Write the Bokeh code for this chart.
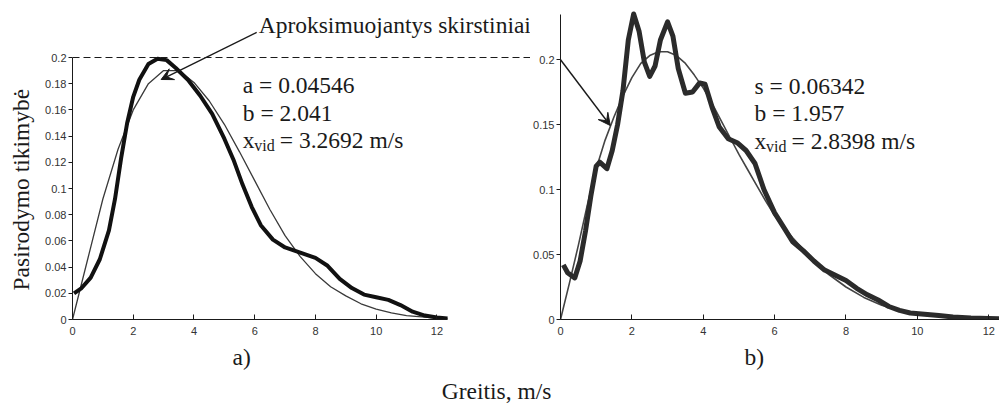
import math
from bokeh.plotting import figure
from bokeh.layouts import row, column
from bokeh.models import (Label, Arrow, VeeHead, FixedTicker, PrintfTickFormatter, Range1d,
                          Span, Title)
from bokeh.embed import file_html
from bokeh.resources import INLINE

SERIF = "Liberation Serif"
SANS = "Liberation Sans"
INK = "#1a1a1a"

# ---------------- data: panel a) ----------------
a_emp_x = [0.05, 0.3, 0.6, 0.9, 1.2, 1.4, 1.6, 1.8, 2.0, 2.2, 2.5, 2.8, 3.1, 3.4, 3.8, 4.2,
           4.6, 5.0, 5.3, 5.6, 5.9, 6.2, 6.6, 7.0, 7.5, 8.0, 8.4, 8.8, 9.2, 9.6, 10.0, 10.4,
           10.8, 11.2, 11.6, 12.0, 12.35]
a_emp_y = [0.020, 0.024, 0.032, 0.046, 0.068, 0.092, 0.123, 0.150, 0.170, 0.183, 0.195, 0.199,
           0.198, 0.192, 0.183, 0.171, 0.157, 0.138, 0.122, 0.103, 0.086, 0.072, 0.061, 0.055,
           0.051, 0.047, 0.041, 0.031, 0.024, 0.019, 0.017, 0.015, 0.011, 0.006, 0.003, 0.0015,
           0.0008]
a_fit_x = [0, 0.5, 1.0, 1.5, 2.0, 2.5, 3.0, 3.5, 4.0, 4.5, 5.0, 5.5, 6.0, 6.5, 7.0, 7.5, 8.0,
           8.5, 9.0, 9.5, 10.0, 10.5, 11.0, 11.5, 12.0, 12.35]
a_fit_y = [0, 0.046, 0.092, 0.130, 0.160, 0.180, 0.190, 0.190, 0.181, 0.167, 0.149, 0.128,
           0.106, 0.084, 0.064, 0.048, 0.035, 0.025, 0.018, 0.012, 0.008, 0.005, 0.003, 0.002,
           0.001, 0.0007]

# ---------------- data: panel b) ----------------
b_emp_x = [0.08, 0.2, 0.4, 0.55, 0.7, 0.85, 1.0, 1.1, 1.3, 1.45, 1.6, 1.75, 1.9, 2.05, 2.2,
           2.35, 2.5, 2.65, 2.8, 3.0, 3.15, 3.3, 3.5, 3.7, 3.9, 4.05, 4.25, 4.45, 4.7, 4.95,
           5.2, 5.45, 5.7, 6.0, 6.3, 6.5, 6.8, 7.1, 7.4, 7.7, 8.0, 8.3, 8.6, 8.9, 9.2, 9.5,
           9.8, 10.2, 10.6, 11.0, 11.5, 12.0, 12.3]
b_emp_y = [0.042, 0.036, 0.032, 0.045, 0.068, 0.095, 0.118, 0.121, 0.116, 0.130, 0.150, 0.176,
           0.215, 0.235, 0.222, 0.198, 0.187, 0.195, 0.215, 0.229, 0.218, 0.193, 0.174, 0.175,
           0.182, 0.181, 0.163, 0.148, 0.139, 0.136, 0.130, 0.120, 0.100, 0.082, 0.069, 0.060,
           0.053, 0.045, 0.038, 0.034, 0.030, 0.024, 0.019, 0.015, 0.010, 0.007, 0.005, 0.004,
           0.003, 0.002, 0.0012, 0.0008, 0.0006]
b_fit_x = [0, 0.25, 0.5, 0.75, 1.0, 1.25, 1.5, 1.75, 2.0, 2.25, 2.5, 2.75, 3.0, 3.25, 3.5,
           3.75, 4.0, 4.25, 4.5, 4.75, 5.0, 5.25, 5.5, 5.75, 6.0, 6.5, 7.0, 7.5, 8.0, 8.5, 9.0,
           9.5, 10.0, 10.5, 11.0, 11.5, 12.0, 12.3]
b_fit_y = [0, 0.028, 0.057, 0.088, 0.116, 0.138, 0.156, 0.172, 0.186, 0.197, 0.203, 0.206,
           0.206, 0.203, 0.197, 0.188, 0.178, 0.166, 0.153, 0.140, 0.127, 0.115, 0.103, 0.091,
           0.080, 0.063, 0.048, 0.035, 0.025, 0.017, 0.011, 0.007, 0.0045, 0.0028, 0.0017,
           0.001, 0.0006, 0.0004]

x_ticks = [0, 2, 4, 6, 8, 10, 12]
a_y_ticks = [0, 0.02, 0.04, 0.06, 0.08, 0.1, 0.12, 0.14, 0.16, 0.18, 0.2]
b_y_ticks = [0, 0.05, 0.1, 0.15, 0.2]
peak_level = 0.2

a_params = ["a = 0.04546", "b = 2.041"]
a_mean = "= 3.2692 m/s"
b_params = ["s = 0.06342", "b = 1.957"]
b_mean = "= 2.8398 m/s"
sub_text = "vid"
callout = "Aproksimuojantys skirstiniai"
y_title = "Pasirodymo tikimybė"
x_title = "Greitis, m/s"
panel_tags = ["a)", "b)"]

FS = "23.5px"


def style(p, yticks, xb, yb):
    p.xgrid.visible = False
    p.ygrid.visible = False
    p.outline_line_color = None
    p.background_fill_color = "white"
    p.border_fill_color = "white"
    xa = p.xaxis[0]
    ya = p.yaxis[0]
    xa.ticker = FixedTicker(ticks=x_ticks)
    ya.ticker = FixedTicker(ticks=yticks)
    ya.formatter = PrintfTickFormatter(format="%g")
    xa.bounds = (0, xb)
    ya.bounds = (0, yb)
    for ax in (xa, ya):
        ax.axis_line_color = INK
        ax.axis_line_width = 1
        ax.major_tick_line_color = INK
        ax.minor_tick_line_color = None
        ax.major_label_text_font = SANS
        ax.major_label_text_font_size = "11px"
        ax.major_label_text_color = "#333333"
    xa.major_tick_in = 5
    xa.major_tick_out = 0
    xa.major_label_standoff = 7
    ya.major_tick_in = 0
    ya.major_tick_out = 4
    ya.major_label_standoff = 2


def lab(p, x, y, text, size=FS, **kw):
    p.add_layout(Label(x=x, y=y, text=text, text_font=SERIF, text_font_size=size,
                       text_color=INK, text_baseline="middle", **kw))


def tag(p, text, side, offset, standoff, valign):
    p.add_layout(Title(text=text, align="left", offset=offset, standoff=standoff,
                       vertical_align=valign, text_font=SERIF, text_font_size=FS,
                       text_font_style="normal", text_color=INK), side)


def stat_block(p, x, y0, params, mean, dy):
    lab(p, x, y0, params[0])
    lab(p, x, y0 - dy, params[1])
    lab(p, x, y0 - 2 * dy, "x")
    lab(p, x, y0 - 2 * dy, sub_text, size="16px", x_offset=11.5, y_offset=-5.5)
    lab(p, x, y0 - 2 * dy, mean, x_offset=37)


head = dict(size=12, fill_color=INK, line_color=INK)

# ---------------- panel a) ----------------
p1 = figure(width=530, height=377, x_range=Range1d(0, 460 / 30.5),
            y_range=Range1d(0, 319 / 1310),
            output_backend="svg", toolbar_location=None, title=None,
            min_border_left=70, min_border_right=0, min_border_top=0, min_border_bottom=58)
style(p1, a_y_ticks, 12.35, 0.2)
p1.line(a_fit_x, a_fit_y, line_width=1.3, color="#3a3a3a")
p1.line(a_emp_x, a_emp_y, line_width=4, color="#111111", line_join="round")
p1.add_layout(Span(location=peak_level, dimension="width", line_color=INK,
                   line_width=1.2, line_dash="7 4"))
stat_block(p1, 5.607, 0.1789, a_params, a_mean, 0.0211)
lab(p1, 6.131, 0.2245, callout)
p1.add_layout(Arrow(x_start=6.066, y_start=0.2191, x_end=2.918, y_end=0.1832,
                    line_color=INK, line_width=1.4, end=VeeHead(**head)))
tag(p1, y_title, "left", 29, 14, "top")
tag(p1, panel_tags[0], "below", 160, 12, "top")

# ---------------- panel b) ----------------
p2 = figure(width=469, height=377, x_range=Range1d(0, 441 / 35.85),
            y_range=Range1d(0, 319 / 1300),
            output_backend="svg", toolbar_location=None, title=None,
            min_border_left=28, min_border_right=0, min_border_top=0, min_border_bottom=58)
style(p2, b_y_ticks, 12.3, 0.235)
p2.line(b_fit_x, b_fit_y, line_width=1.6, color="#444444")
p2.line(b_emp_x, b_emp_y, line_width=5, color="#2b2b2b", line_join="round")
stat_block(p2, 5.439, 0.1798, b_params, b_mean, 0.0211)
p2.add_layout(Arrow(x_start=-0.64, y_start=0.2231, x_end=1.395, y_end=0.1492,
                    line_color=INK, line_width=1.4, end=VeeHead(**head)))
tag(p2, panel_tags[1], "below", 184, 12, "top")

# ---------------- shared x title ----------------
p3 = figure(width=999, height=26, x_range=Range1d(0, 999), y_range=Range1d(0, 26),
            x_axis_type=None, y_axis_type=None, output_backend="svg", toolbar_location=None,
            title=None, min_border=0)
p3.outline_line_color = None
p3.xgrid.visible = False
p3.ygrid.visible = False
lab(p3, 496, 13, x_title, text_align="center")

layout = column(row(p1, p2), p3)
with open("out.html", "w", encoding="utf-8") as f:
    f.write(file_html(layout, INLINE, "chart"))
